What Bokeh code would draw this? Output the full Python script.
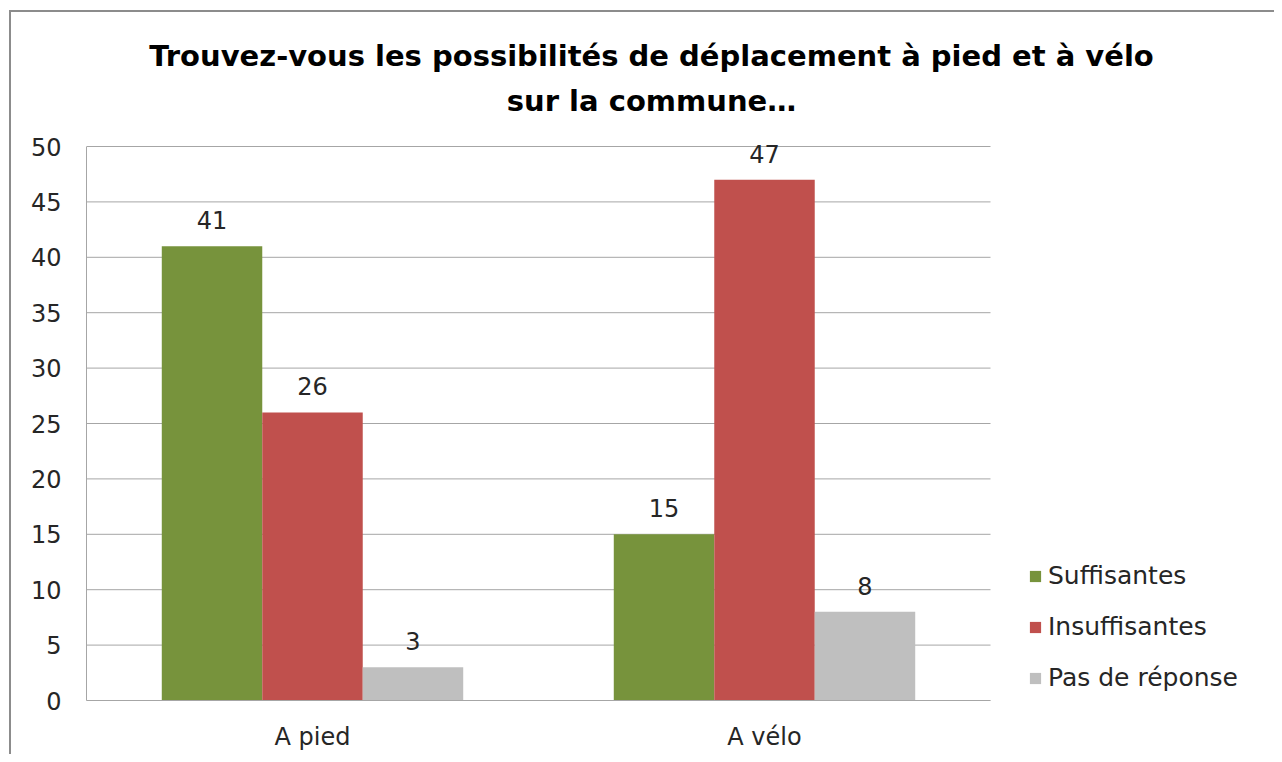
from bokeh.plotting import figure
from bokeh.models import (ColumnDataSource, Range1d, FixedTicker,
                          Legend, LegendItem, Label)
from bokeh.transform import dodge
from bokeh.embed import file_html
from bokeh.resources import INLINE
from bokeh.core.properties import value

# ---- data ----
categories = ["A pied", "A vélo"]
series_names = ["Suffisantes", "Insuffisantes", "Pas de réponse"]
suffisantes = [41, 15]
insuffisantes = [26, 47]
pas_de_reponse = [3, 8]
y_ticks = [0, 5, 10, 15, 20, 25, 30, 35, 40, 45, 50]
title_line1 = "Trouvez-vous les possibilités de déplacement à pied et à vélo"
title_line2 = "sur la commune…"

colors = ["#77933C", "#C0504D", "#BFBFBF"]
FONT = "DejaVu Sans"
TXT = "#262626"
GRID = "#A6A6A6"
FS = "24px"

N = len(categories)
x_pos = [i + 0.5 for i in range(N)]          # category centres
Y_MAX = y_ticks[-1]
PLOT_W, PLOT_H = 904, 554                     # the chart's plot area in px
TOP_ROOM, RIGHT_ROOM = 134, 284               # room for title and legend
X_END = N * (PLOT_W + RIGHT_ROOM) / PLOT_W
Y_END = Y_MAX * (PLOT_H + TOP_ROOM) / PLOT_H

source = ColumnDataSource(dict(
    x=x_pos,
    s=suffisantes, i=insuffisantes, p=pas_de_reponse,
    s_lbl=[str(v) for v in suffisantes],
    i_lbl=[str(v) for v in insuffisantes],
    p_lbl=[str(v) for v in pas_de_reponse],
))
grid_src = ColumnDataSource(dict(x0=[0] * len(y_ticks), x1=[N] * len(y_ticks), y=y_ticks))

p = figure(x_range=Range1d(0, X_END), y_range=Range1d(0, Y_END),
           frame_width=PLOT_W + RIGHT_ROOM, frame_height=PLOT_H + TOP_ROOM,
           min_border_left=75, min_border_right=0,
           min_border_top=0, min_border_bottom=54,
           output_backend="svg", toolbar_location=None,
           styles={"margin-left": "9px", "margin-top": "10px",
                   "border-left": "2px solid #8C8C8C", "border-top": "2px solid #8C8C8C"})
p.outline_line_color = None
p.background_fill_color = "white"
p.border_fill_color = "white"
p.xgrid.grid_line_color = None
p.ygrid.grid_line_color = None

# horizontal gridlines across the plot area only
p.segment(x0="x0", x1="x1", y0="y", y1="y", source=grid_src,
          line_color=GRID, line_width=1, level="underlay")

bw = 0.2223
offsets = [-bw, 0.0, bw]
fields = ["s", "i", "p"]
renderers = []
for f, off, c in zip(fields, offsets, colors):
    r = p.vbar(x=dodge("x", off), top=f, width=bw, bottom=0,
               source=source, fill_color=c, line_color=None)
    renderers.append(r)
    p.text(x=dodge("x", off), y=f, text=f + "_lbl", source=source,
           text_align="center", text_baseline="middle", y_offset=-26,
           text_font=value(FONT), text_font_size=FS, text_color=TXT)

# axes
p.yaxis.ticker = FixedTicker(ticks=y_ticks)
p.yaxis.bounds = (0, Y_MAX)
p.xaxis.ticker = FixedTicker(ticks=x_pos)
p.xaxis.bounds = (0, N)
p.xaxis.major_label_overrides = {x: c for x, c in zip(x_pos, categories)}
for ax in (p.xaxis, p.yaxis):
    ax.axis_line_color = GRID
    ax.axis_line_width = 1
    ax.major_tick_line_color = None
    ax.minor_tick_line_color = None
    ax.major_tick_out = 0
    ax.major_tick_in = 0
    ax.minor_tick_out = 0
    ax.major_label_text_font = FONT
    ax.major_label_text_font_size = FS
    ax.major_label_text_color = TXT
p.yaxis.major_label_standoff = 25
p.xaxis.major_label_standoff = 22

# legend (inside the right-hand room)
legend = Legend(items=[LegendItem(label=n, renderers=[r]) for n, r in zip(series_names, renderers)],
                location=(PLOT_W + 38, 8), orientation="vertical",
                glyph_width=14, glyph_height=14, label_height=26, spacing=22,
                label_standoff=6, padding=0, margin=0,
                border_line_color=None, background_fill_alpha=0,
                label_text_font=FONT, label_text_font_size="25px", label_text_color=TXT)
p.add_layout(legend, "center")

# title: two centred lines (screen units, relative to the plot area)
for txt, yy in ((title_line1, 645), (title_line2, 600)):
    p.add_layout(Label(x=565, y=yy, x_units="screen", y_units="screen", text=txt,
                       text_align="center", text_baseline="middle",
                       text_font=FONT, text_font_size="29px", text_font_style="bold",
                       text_color="black"))

open("out.html", "w").write(file_html(p, INLINE))
